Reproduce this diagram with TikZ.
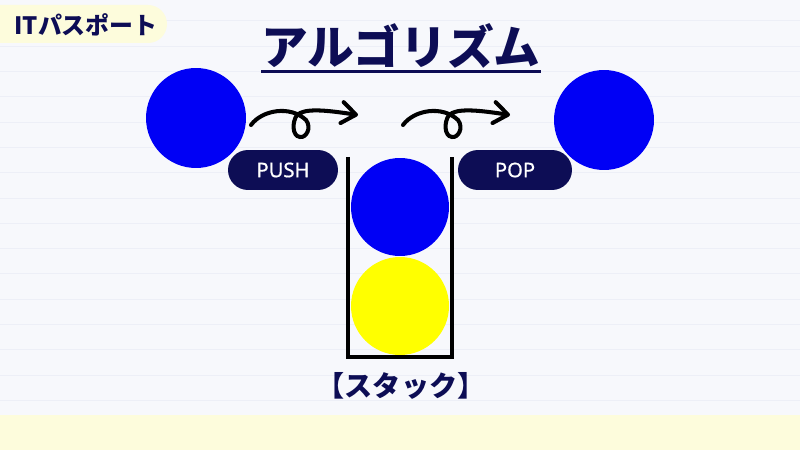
\documentclass[tikz,border=0pt]{standalone}
\usepackage{fontspec}
\setmainfont{Noto Sans CJK JP}
\newfontfamily\latinsans{Noto Sans}[FakeBold=0.7]
\usetikzlibrary{arrows.meta}
\definecolor{navy}{HTML}{0D0D55}
\definecolor{paper}{HTML}{F7F8FC}
\definecolor{ruled}{HTML}{EDEFF7}
\definecolor{cream}{HTML}{FDFCDC}
\definecolor{ballblue}{HTML}{0000F5}
\definecolor{ballyellow}{HTML}{FFFF00}
\tikzset{every picture/.style={x=0.02cm,y=0.02cm}}
\tikzset{ball/.style={circle, inner sep=0pt, minimum size=2cm}}
\tikzset{pill/.style={rectangle, rounded corners=0.4cm, fill=navy, text=white, minimum height=0.8cm, inner sep=0pt, font=\latinsans\fontsize{11.5}{12}\selectfont}}
\tikzset{curl/.style={line width=2.3pt, line cap=round, -{Straight Barb[length=8pt,width=12pt,round]}}}
\newcommand{\curlarrow}[1]{\draw[curl, shift={(#1)}] (0,0) .. controls (11,15) and (39,20) .. (55,5)
    .. controls (61,-3) and (55,-13) .. (49,-12)
    .. controls (41,-11) and (41,3) .. (46,10)
    .. controls (54,17) and (74,15) .. (107,10);}

\begin{document}
\begin{tikzpicture}
    \useasboundingbox (0,0) rectangle (800,450);
    % paper
    \fill[paper] (0,0) rectangle (800,450);
    \foreach \k in {0,...,15}
        \draw[ruled, line width=0.5pt] (0,{429.1-25.3*\k}) -- (800,{429.1-25.3*\k});
    \fill[cream] (0,0) rectangle (800,35);
    \fill[cream, rounded corners=0.38cm] (-40,407) rectangle (167,445);
    \node[text=navy, font=\bfseries\fontsize{13.6}{14}\selectfont] (tag) at (86,425) {ITパスポート};

    % title
    \node[text=navy, inner sep=0pt, font=\bfseries\fontsize{26.6}{28}\selectfont] (title) at (401,404) {アルゴリズム};
    \draw[navy, line width=1.8pt] ([yshift=-4pt]title.base west) -- ([yshift=-4pt]title.base east);

    % balls
    \node[ball, fill=ballblue] (pushed) at (196,332) {};
    \node[ball, fill=ballblue] (popped) at (604,330) {};
    \node[ball, fill=ballblue, minimum size=1.96cm] (top) at (400,243) {};
    \node[ball, fill=ballyellow, minimum size=1.96cm] (bottom) at (400,144) {};

    % stack
    \draw[line width=2pt] (348,293) -- (348,93) -- (452,93) -- (452,293);
    \node[text=navy, font=\bfseries\fontsize{16}{17}\selectfont] (stack) at (401,64) {【スタック】};

    % labels
    \node[pill, minimum width=2.2cm] (push) at (283,280) {PUSH};
    \node[pill, minimum width=2.28cm] (pop) at (515,280) {POP};

    % arrows
    \coordinate (push-from) at (251,325);
    \coordinate (pop-from) at (403,325);
    \curlarrow{push-from}
    \curlarrow{pop-from}
\end{tikzpicture}
\end{document}
